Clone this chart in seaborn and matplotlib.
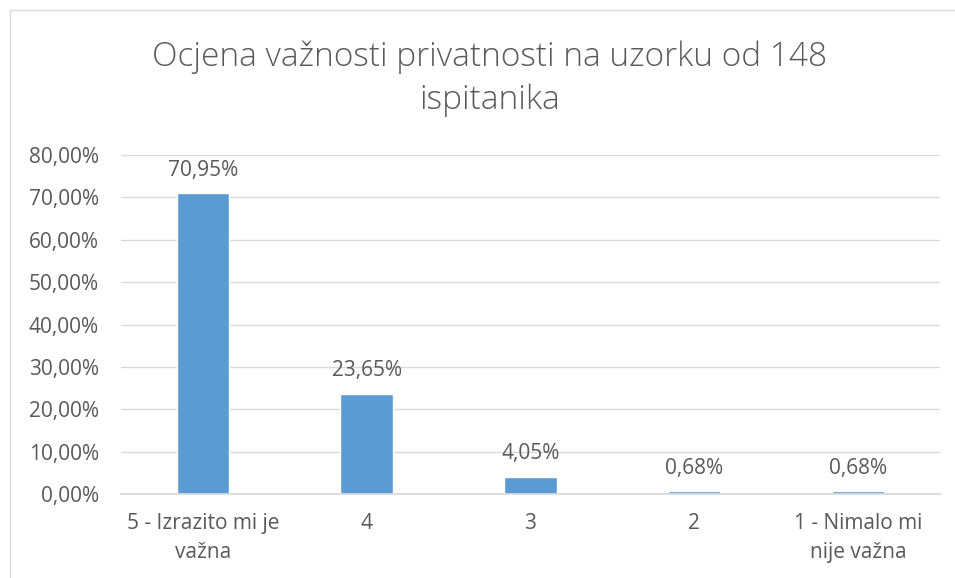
import matplotlib
matplotlib.use("Agg")
import matplotlib.pyplot as plt
import seaborn as sns
import pandas as pd
from matplotlib.ticker import FuncFormatter
from matplotlib.patches import Rectangle

sns.set_theme(style="white")
plt.rcParams["font.family"] = ["Open Sans", "DejaVu Sans"]

categories = ["5 - Izrazito mi je\nvažna", "4", "3", "2", "1 - Nimalo mi\nnije važna"]
shares = [70.95, 23.65, 4.05, 0.68, 0.68]

df = pd.DataFrame({"ocjena": categories, "udio": shares})
text_col = "#595959"
grid_col = "#d9d9d9"

fig = plt.figure(figsize=(9.55, 5.78), dpi=100)
ax = fig.add_axes([0.1267, 0.1453, 0.8573, 0.5865])

sns.barplot(data=df, x="ocjena", y="udio", color="#5b9bd5", saturation=1,
            width=0.32, ax=ax, zorder=3)

ax.set_ylim(0, 80)
ax.set_xlim(-0.5, len(categories) - 0.5)
ax.set_yticks(range(0, 81, 10))
ax.yaxis.set_major_formatter(FuncFormatter(lambda v, p: f"{v:.2f}%".replace(".", ",")))
ax.grid(axis="y", color=grid_col, linewidth=1, zorder=0)
for s in ["top", "right", "left"]:
    ax.spines[s].set_visible(False)
ax.spines["bottom"].set_color(grid_col)
ax.spines["bottom"].set_zorder(4)
ax.tick_params(axis="both", length=0, labelsize=15, colors=text_col)
ax.tick_params(axis="y", pad=16)
ax.tick_params(axis="x", pad=14)
for lbl in ax.get_xticklabels():
    lbl.set_linespacing(1.45)
ax.set_xlabel("")
ax.set_ylabel("")

for i, v in enumerate(shares):
    ax.annotate(f"{v:.2f}%".replace(".", ","), (i, v), xytext=(0, 9),
                textcoords="offset points", ha="center", va="bottom",
                fontsize=15, color=text_col)

fig.text(0.513, 0.864, "Ocjena važnosti privatnosti na uzorku od 148\nispitanika",
         ha="center", va="center", fontsize=24, color=text_col,
         fontweight="light", linespacing=1.35)

fig.patches.append(Rectangle((10 / 955, -0.1), 1.2, 1 - 10 / 578 + 0.1,
                             transform=fig.transFigure, fill=False,
                             edgecolor="#d9d9d9", linewidth=1))

plt.savefig("out.png", dpi=100)
plt.close()
